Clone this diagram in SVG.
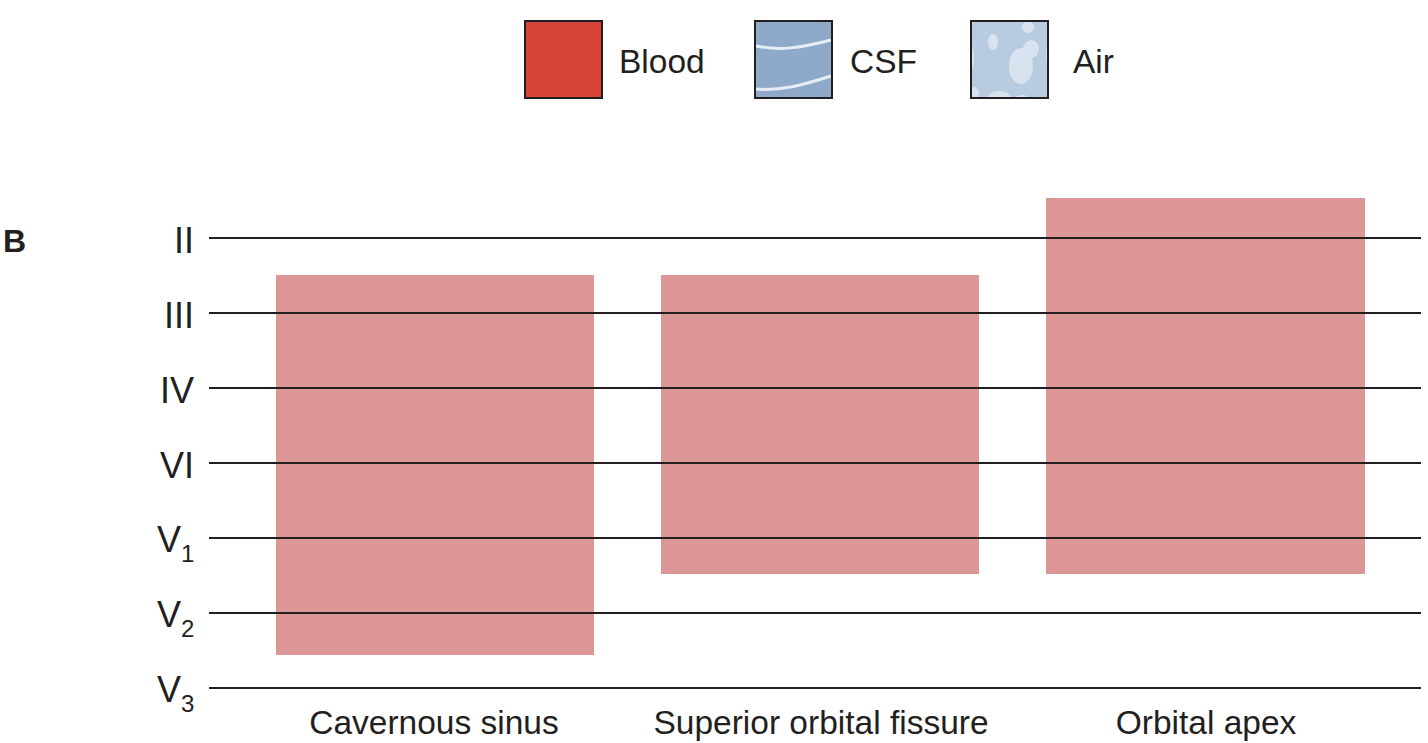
<svg xmlns="http://www.w3.org/2000/svg" width="1428" height="743" viewBox="0 0 1428 743">
<style>
text{font-family:"Liberation Sans",Arial,sans-serif;fill:#231f20}
.lbl{font-size:36px;text-anchor:end}
.v{font-size:36px}
.sub{font-size:24px}
.cap{font-size:33.5px;text-anchor:middle}
.leg{font-size:33.5px}
.bar{fill:#db9695}
.ln{stroke:#231f20;stroke-width:2}
.box{stroke:#231f20;stroke-width:2}
</style>
<defs>
<clipPath id="airclip"><rect x="971" y="21" width="77" height="77"/></clipPath>
</defs>
<rect width="1428" height="743" fill="#fff"/>
<g id="legend">
<g id="legend-blood">
<rect class="box" x="525" y="21" width="77" height="77" fill="#d64437"/>
<text class="leg" x="619" y="73">Blood</text>
</g>
<g id="legend-csf">
<rect x="755" y="21" width="77" height="77" fill="#8fa9cb"/>
<path d="M756 46 C780 51 800 48 831 40 M756 89 C780 91 800 86 831 76" stroke="#e6edf5" stroke-width="3" fill="none"/>
<rect class="box" x="755" y="21" width="77" height="77" fill="none"/>
<text class="leg" x="850" y="73">CSF</text>
</g>
<g id="legend-air">
<rect x="971" y="21" width="77" height="77" fill="#b7cbe1"/>
<g fill="#d8e3ef" clip-path="url(#airclip)">
<ellipse cx="1021" cy="66" rx="12" ry="18"/>
<ellipse cx="1031" cy="49" rx="8" ry="9"/>
<ellipse cx="993" cy="42" rx="5" ry="8"/>
<ellipse cx="1028" cy="27" rx="6" ry="6"/>
<ellipse cx="999" cy="99" rx="12" ry="8"/>
<ellipse cx="1022" cy="100" rx="8" ry="5"/>
<ellipse cx="970" cy="58" rx="4" ry="14"/>
<ellipse cx="1049" cy="55" rx="3" ry="12"/>
<ellipse cx="974" cy="93" rx="5" ry="6"/>
</g>
<rect class="box" x="971" y="21" width="77" height="77" fill="none"/>
<text class="leg" x="1073" y="73">Air</text>
</g>
</g>
<text id="panel-label" x="3" y="252" style="font-size:32px;font-weight:bold">B</text>
<g id="bars">
<rect id="bar-cavernous" class="bar" x="276" y="275" width="318" height="380"/>
<rect id="bar-sof" class="bar" x="661" y="275" width="318" height="299"/>
<rect id="bar-apex" class="bar" x="1046" y="198" width="319" height="376"/>
</g>
<g id="connectors">
<line class="ln" x1="209" y1="238" x2="1421" y2="238"/>
<line class="ln" x1="209" y1="313" x2="1421" y2="313"/>
<line class="ln" x1="209" y1="388" x2="1421" y2="388"/>
<line class="ln" x1="209" y1="463" x2="1421" y2="463"/>
<line class="ln" x1="209" y1="538" x2="1421" y2="538"/>
<line class="ln" x1="209" y1="613" x2="1421" y2="613"/>
<line class="ln" x1="209" y1="688" x2="1421" y2="688"/>
</g>
<g id="row-labels">
<text class="lbl" x="194" y="253">II</text>
<text class="lbl" x="194" y="328">III</text>
<text class="lbl" x="194" y="403">IV</text>
<text class="lbl" x="194" y="478">VI</text>
<text class="v" x="157" y="552">V<tspan class="sub" dy="10">1</tspan></text>
<text class="v" x="157" y="627">V<tspan class="sub" dy="10">2</tspan></text>
<text class="v" x="157" y="702">V<tspan class="sub" dy="10">3</tspan></text>
</g>
<g id="captions">
<text class="cap" x="434" y="734">Cavernous sinus</text>
<text class="cap" x="821" y="734">Superior orbital fissure</text>
<text class="cap" x="1206" y="734">Orbital apex</text>
</g>
</svg>
